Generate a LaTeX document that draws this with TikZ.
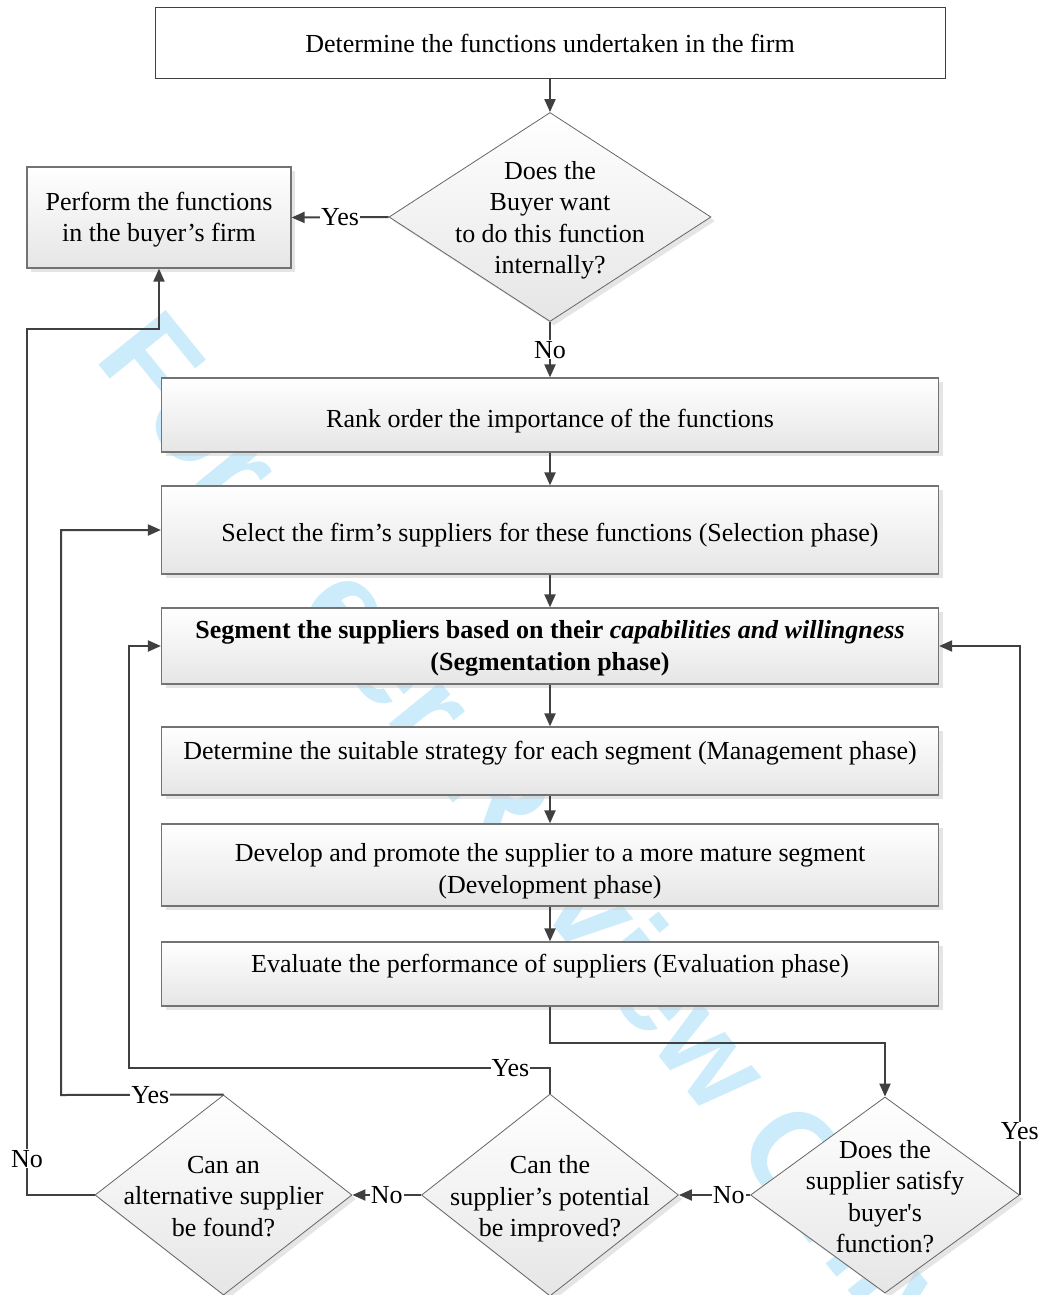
\documentclass[tikz,border=0pt]{standalone}
\usepackage{fontspec}
\setmainfont{Liberation Serif}
\newfontfamily\wmfont{Liberation Sans}
\usetikzlibrary{arrows.meta,shapes,shadows}
\definecolor{wmblue}{RGB}{204,236,251}
\definecolor{linegray}{RGB}{64,64,64}

\begin{document}
\begin{tikzpicture}[x=1pt,y=-1pt]
\tikzstyle{every node}=[font=\fontsize{26}{31.5}\selectfont];
\tikzstyle{plain}=[draw=black!75,line width=1pt,fill=white,minimum width=790,minimum height=71];
\tikzstyle{box}=[draw=black!55,line width=1.2pt,top color=white,bottom color=black!10,drop shadow={shadow xshift=4pt,shadow yshift=-4pt,fill=black!20},align=center];
\tikzstyle{wide}=[box,minimum width=777];
\tikzstyle{high}=[text height=18pt,text depth=22pt];
\tikzstyle{decision}=[box,shape=diamond,draw=black!60,line width=0.8pt,inner sep=0pt];
\tikzstyle{flow}=[draw=linegray,line width=2pt,-{Triangle[length=13pt,width=11pt]}];
\tikzstyle{lbl}=[fill=white,inner sep=1pt];
\useasboundingbox (0,0) rectangle (1042,1295);

% watermark
\path (93,358) node[font=\wmfont\bfseries\fontsize{126}{126}\selectfont,text=wmblue,anchor=base west,rotate=-51,inner sep=0pt] (wmark) {For Peer Review Only};

\path (550,43.5) node[plain] (funcs) {Determine the functions undertaken in the firm};
\path (550,217) node[decision,minimum width=322,minimum height=209,label={[align=center,yshift=-3.5pt]center:Does the\\Buyer want\\to do this function\\internally?}] (buyer) {};
\path (159,217.5) node[box,text height=54pt,minimum width=264,minimum height=101] (perform) {Perform the functions\\in the buyer's firm};

\path (550,415) node[wide,text height=30pt,minimum height=74] (rank) {Rank order the importance of the functions};
\path (550,530) node[wide,text height=29pt,minimum height=88] (select) {Select the firm's suppliers for these functions (Selection phase)};
\path (550,646) node[wide,text height=54pt,minimum height=76,font=\fontsize{26}{31.5}\selectfont\bfseries] (segment) {Segment the suppliers based on their \textit{capabilities and willingness}\\(Segmentation phase)};
\path (550,761) node[wide,high,minimum height=68] (strategy) {Determine the suitable strategy for each segment (Management phase)};
\path (550,865) node[wide,text height=62pt,minimum height=82] (develop) {Develop and promote the supplier to a more mature segment\\(Development phase)};
\path (550,974) node[wide,high,minimum height=64] (evaluate) {Evaluate the performance of suppliers (Evaluation phase)};

\path (885,1195) node[decision,minimum width=269,minimum height=196,label={[align=center,yshift=-1.5pt]center:Does the\\supplier satisfy\\buyer\textquotesingle s\\function?}] (satisfy) {};
\path (550,1195) node[decision,minimum width=257,minimum height=202,label={[align=center,yshift=-4pt]center:Can the\\supplier's potential\\be improved?}] (improve) {};
\path (223.5,1195) node[decision,minimum width=257,minimum height=200,label={[align=center,yshift=-1.5pt]center:Can an\\alternative supplier\\be found?}] (altern) {};

\coordinate (bendA) at (129,1068);
\coordinate (bendB) at (61,1095);
\coordinate (bendC) at (27,329);

\draw[flow] (funcs) -- (buyer);
\draw[flow] (buyer.west) -- node[lbl]{Yes} (perform.east);
\draw[flow] (buyer) -- node[lbl]{No} (rank);
\draw[flow] (rank) -- (select);
\draw[flow] (select) -- (segment);
\draw[flow] (segment) -- (strategy);
\draw[flow] (strategy) -- (develop);
\draw[flow] (develop) -- (evaluate);
\draw[flow] (evaluate.south) -- ++(0,36) -| (satisfy.north);
\draw[flow] (satisfy.east) -- node[lbl,pos=0.116]{Yes} (satisfy.east |- segment.east) -- (segment.east);
\draw[flow] (satisfy.west) -- node[lbl,pos=0.3]{No} (improve.east);
\draw[flow] (improve.north) |- node[lbl,pos=0.547]{Yes} (bendA) |- (segment.west);
\draw[flow] (improve.west) -- node[lbl]{No} (altern.east);
\draw[flow] (altern.north) -- node[lbl,pos=0.45]{Yes} (bendB) |- (select.west);
\draw[flow] (altern.west) -| node[lbl,pos=0.521]{No} (bendC) -| (perform.south);
\end{tikzpicture}
\end{document}
